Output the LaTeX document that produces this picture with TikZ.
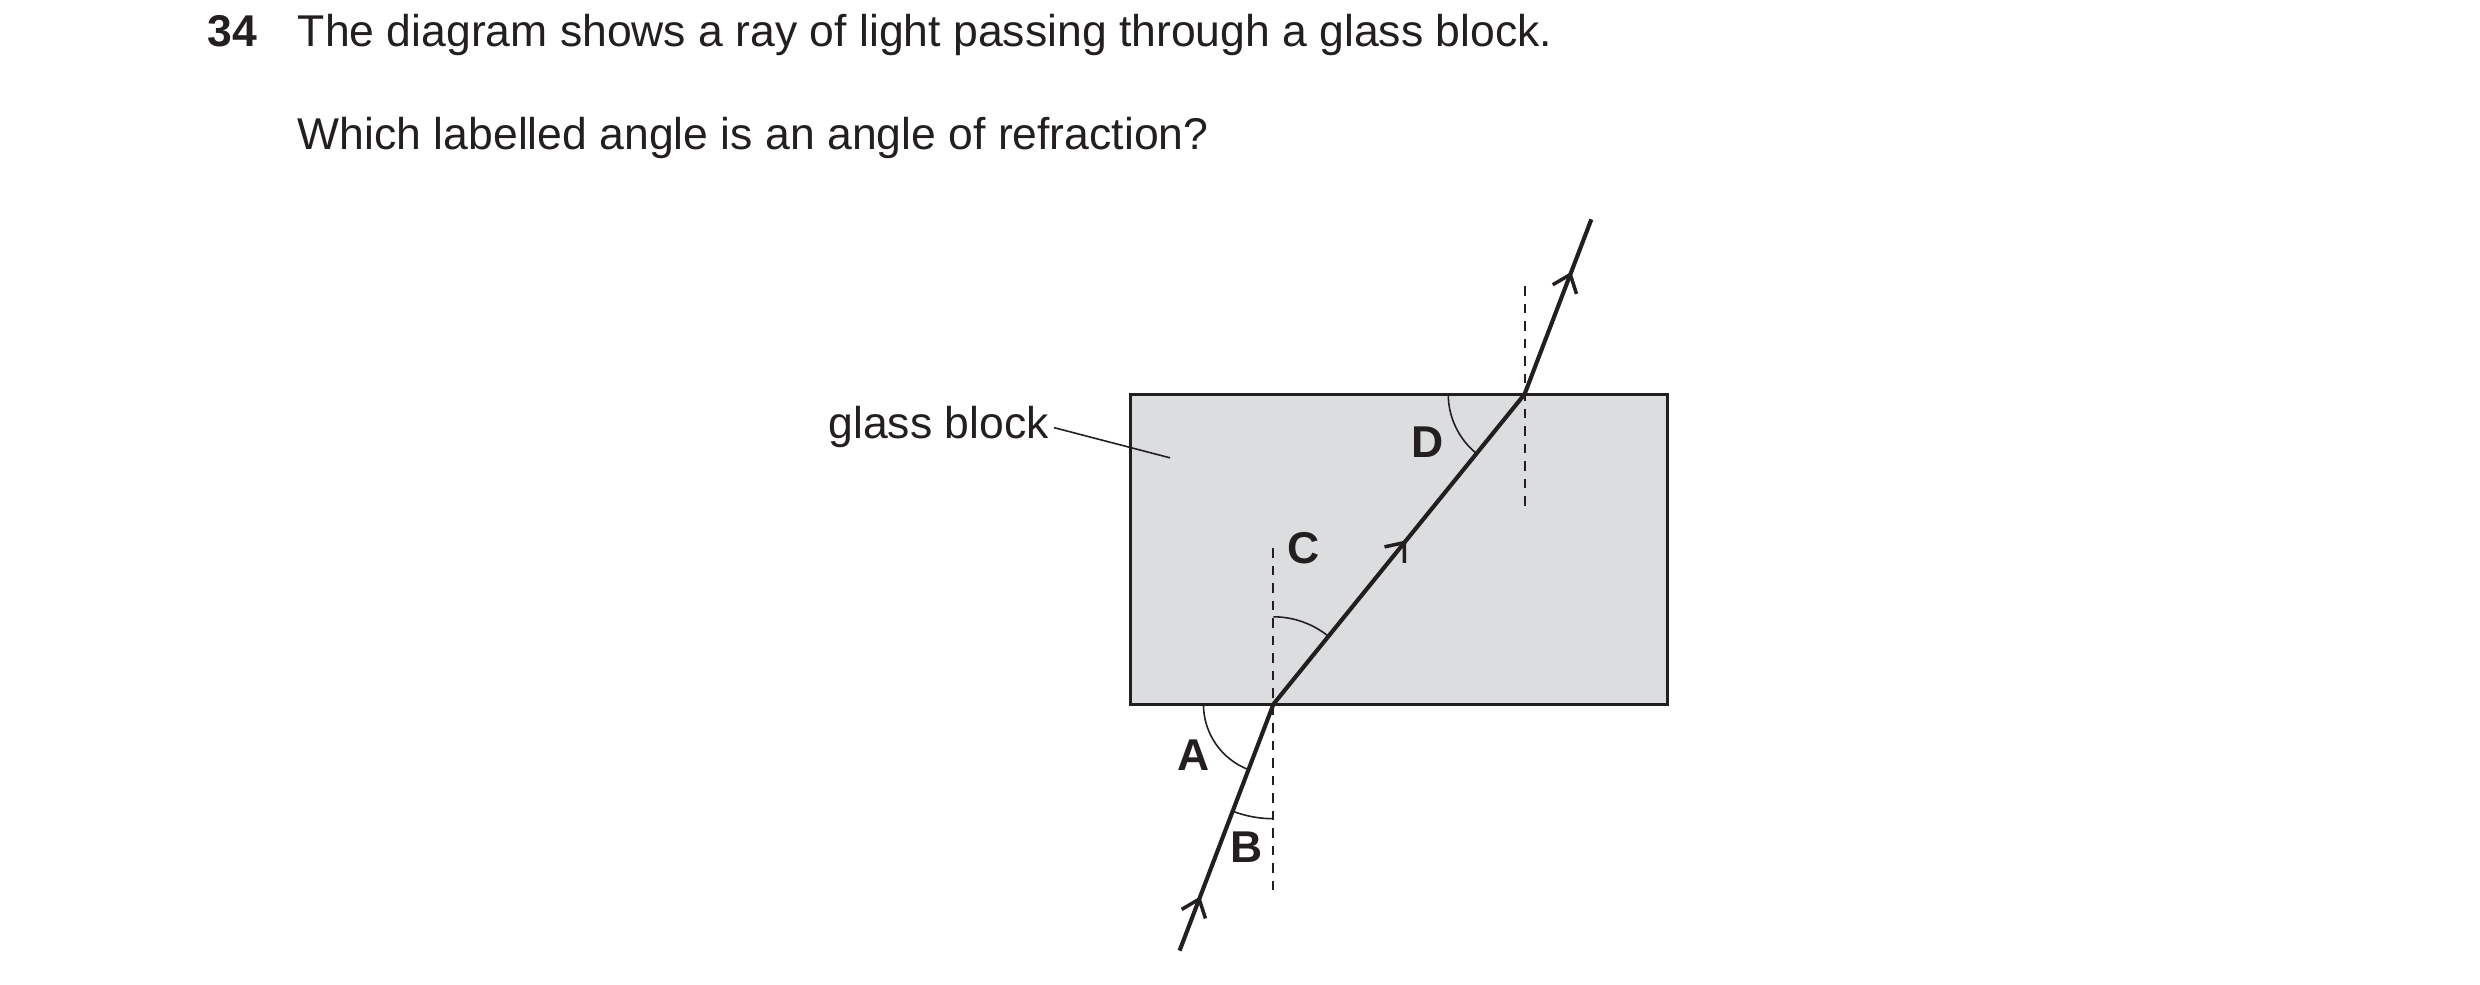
\documentclass[tikz,border=0pt]{standalone}
\usepackage{fontspec}
\setmainfont{Liberation Sans}
\usetikzlibrary{arrows.meta,decorations.markings,calc}
\definecolor{glass}{HTML}{DCDDDF}
\definecolor{ink}{HTML}{231F20}
\tikzset{
  ray/.style={line width=1.3pt,draw=ink},
  mark/.style={postaction={decorate},decoration={markings,mark=at position #1 with {\arrow{Straight Barb[length=5pt,width=8pt,line width=1.1pt]}}}},
  normal/.style={line width=0.6pt,draw=ink,dash pattern=on 3pt off 2.5pt},
  ang/.style={line width=0.5pt,draw=ink},
  lab/.style={font=\fontsize{14}{16}\selectfont\bfseries,text=ink,inner sep=0pt},
  txt/.style={font=\fontsize{14}{17}\selectfont,text=ink,inner sep=0pt,anchor=base west}
}
\begin{document}
\begin{tikzpicture}[x=0.5pt,y=0.5pt]
\useasboundingbox (0,0) rectangle (1560,-619.5);
\node[txt,font=\fontsize{14}{17}\selectfont\bfseries] (num) at (130,-29) {34};
\node[txt] (t1) at (187,-29) {The diagram shows a ray of light passing through a glass block.};
\node[txt] (t2) at (187,-94) {Which labelled angle is an angle of refraction?};
\node[draw=ink,line width=1.1pt,fill=glass,minimum width=169pt,minimum height=97.5pt,inner sep=0pt] (blk) at (880,-345.5) {};
\coordinate (P) at (801,-443);
\coordinate (Q) at (959,-248);
\coordinate (S) at (742,-598);
\coordinate (E) at (1001,-138);
\draw[normal] (801,-345) coordinate (n1a) -- (801,-560) coordinate (n1b);
\draw[normal] (959,-180) coordinate (n2a) -- (959,-318) coordinate (n2b);
\draw[ang] ($(P)+(180:44)$) arc[start angle=180,end angle=249.2,radius=44];
\draw[ang] ($(P)+(249.2:72)$) arc[start angle=249.2,end angle=270,radius=72];
\draw[ang] ($(P)+(51:55)$) arc[start angle=51,end angle=90,radius=55];
\draw[ang] ($(Q)+(180:48)$) arc[start angle=180,end angle=231,radius=48];
\draw[ray,mark=0.22] (S) -- (P);
\draw[ray,mark=0.53] (P) -- (Q);
\draw[ray,mark=0.7] (Q) -- (E);
\node[lab] (A) at (751,-475) {A};
\node[lab] (B) at (784,-533) {B};
\node[lab] (C) at (820,-345) {C};
\node[lab] (D) at (898,-278) {D};
\node[txt,anchor=base east] (gb) at (660,-276) {glass block};
\coordinate (gbe) at (736,-288);
\draw[line width=0.5pt,draw=ink] (663,-269) -- (gbe);
\end{tikzpicture}
\end{document}
